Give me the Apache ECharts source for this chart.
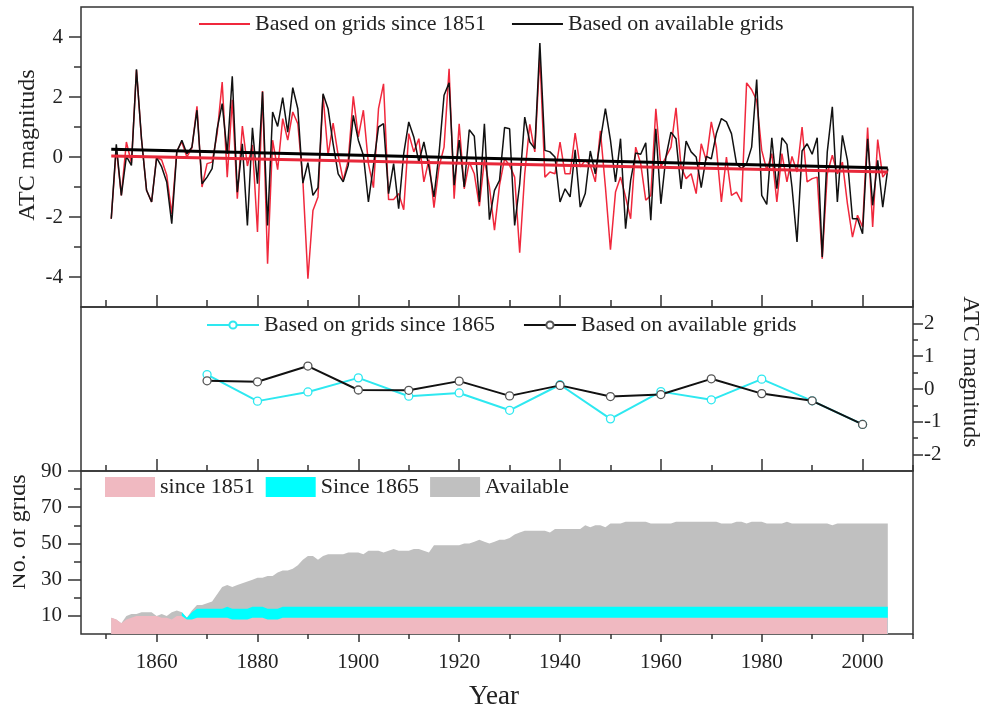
<!DOCTYPE html>
<html>
<head>
<meta charset="utf-8">
<script src="https://cdn.jsdelivr.net/npm/echarts@6/dist/echarts.min.js"></script>
<style>
html, body { margin: 0; padding: 0; background: #fff; }
#main { width: 987px; height: 715px; }
</style>
</head>
<body>
<div id="main"></div>
<script>
// annual ATC, 1851-2005
var firstYear = 1851;
var atcSince1851 = [
    -2.06, 0.3, -1.28, 0.5, -0.2, 2.9, 0.6, -1.11, -1.5, 0.0,
    -0.1, -0.6, -1.9, 0.2, 0.5, 0.0, 0.3, 1.69, -1.0, -0.22,
    -0.17, 0.78, 2.5, -0.67, 1.91, -1.39, 1.03, -0.3, 0.4, -2.5,
    2.2, -3.56, 0.56, -0.42, 1.28, 0.56, 1.5, 1.11, -0.78, -4.06,
    -1.78, -1.33, 2.06, 0.06, 1.13, 0.06, -0.78, -0.11, 2.02, 0.67,
    1.56, -0.22, -1.02, 1.61, 2.44, -1.42, -1.42, -1.22, -1.76, 0.78,
    0.17, 0.61, -0.83, -0.09, -1.69, -0.33, 0.33, 2.94, -1.39, 1.11,
    -1.06, -0.17, -0.56, -1.64, -0.09, -1.0, -2.44, -0.94, -0.06, -0.28,
    -0.67, -3.19, -0.56, 1.09, 0.17, 3.39, -0.67, -0.5, -0.56, 0.5,
    -0.56, -0.56, 0.8, -0.33, -0.11, -0.28, -0.83, 0.87, -1.0, -3.09,
    -1.17, -0.67, -1.33, -2.06, 0.33, -0.22, -1.44, -1.28, 1.61, -0.33,
    0.0, 0.33, 1.64, -0.33, -0.72, -0.56, -1.22, 0.44, -0.11, 1.17,
    0.33, -1.5, 0.0, -1.28, -1.17, -1.5, 2.47, 2.24, 1.89, 0.22,
    -0.44, 0.11, -1.5, 0.11, -0.83, 0.02, -0.5, 1.0, -0.83, -0.72,
    -0.67, -3.39, -0.56, 0.06, -0.56, -0.17, -1.56, -2.67, -1.94, -2.33,
    0.98, -2.33, 0.58, -0.67, -0.44
];
var atcAvailable = [
    -2.06, 0.42, -1.28, 0.02, -0.28, 2.92, 0.6, -1.11, -1.5, -0.02,
    -0.33, -0.83, -2.22, 0.17, 0.56, 0.11, 0.33, 1.56, -0.89, -0.67,
    -0.39, 0.94, 1.78, 0.11, 2.69, -1.17, 0.44, -2.28, 0.97, -0.89,
    2.17, -2.28, 1.5, 1.02, 1.98, 0.83, 2.31, 1.61, -0.87, -0.19,
    -1.28, -1.02, 2.11, 1.61, 0.44, -0.56, -0.83, -0.28, 1.39, 0.56,
    0.06, -1.5, -0.28, 1.0, 1.11, -1.22, -0.22, -1.72, 0.11, 1.17,
    0.67, -0.17, 0.5, -0.33, -1.33, 0.11, 2.06, 2.47, -0.94, 0.56,
    -1.0, 0.91, 0.69, -1.5, 1.11, -2.09, -1.11, -0.78, 0.98, 0.94,
    -2.28, -0.9, 1.33, 0.5, 0.28, 3.8, 0.22, 0.17, 0.0, -1.5,
    -1.06, -1.33, 0.24, -1.67, -1.22, 0.2, -0.56, 0.56, 1.61, 0.56,
    -0.83, 0.61, -2.39, -0.78, 0.13, 0.09, 0.47, -2.11, 0.94, -1.56,
    0.0, 0.83, 0.61, -1.06, 0.53, 0.17, 0.0, -1.02, 0.02, -0.06,
    0.78, 1.28, 1.17, 0.78, -0.22, -0.39, -0.22, 0.33, 2.58, -1.28,
    -1.58, 0.64, -1.06, 0.64, 0.42, -1.0, -2.83, 0.2, 0.44, 0.09,
    0.64, -3.33, 0.17, 1.67, -1.5, 0.72, -0.11, -2.06, -2.06, -2.56,
    0.61, -1.61, -0.11, -1.67, -0.39
];
// linear trends (end points)
var trendSince1851 = [[1851, 0.03], [2005, -0.5]];
var trendAvailable = [[1851, 0.26], [2005, -0.37]];

// decadal ATC
var decades = [1870, 1880, 1890, 1900, 1910, 1920, 1930, 1940, 1950, 1960, 1970, 1980, 1990, 2000];
var decSince1865 = [0.44, -0.37, -0.09, 0.34, -0.22, -0.12, -0.65, 0.13, -0.91, -0.08, -0.33, 0.30, -0.36, -1.08];
var decAvailable = [0.25, 0.22, 0.70, -0.03, -0.04, 0.24, -0.21, 0.11, -0.23, -0.17, 0.31, -0.14, -0.36, -1.08];

// number of grids
var gridsSince1851 = [ // 1851-2005
    9, 8, 6, 8, 9, 10, 10, 10, 10, 10,
    9, 9, 8, 10, 10, 8, 8, 9, 9, 9,
    9, 9, 9, 9, 8, 8, 8, 8, 9, 9,
    9, 8, 8, 8, 9, 9, 9, 9, 9, 9,
    9, 9, 9, 9, 9, 9, 9, 9, 9, 9,
    9, 9, 9, 9, 9, 9, 9, 9, 9, 9,
    9, 9, 9, 9, 9, 9, 9, 9, 9, 9,
    9, 9, 9, 9, 9, 9, 9, 9, 9, 9,
    9, 9, 9, 9, 9, 9, 9, 9, 9, 9,
    9, 9, 9, 9, 9, 9, 9, 9, 9, 9,
    9, 9, 9, 9, 9, 9, 9, 9, 9, 9,
    9, 9, 9, 9, 9, 9, 9, 9, 9, 9,
    9, 9, 9, 9, 9, 9, 9, 9, 9, 9,
    9, 9, 9, 9, 9, 9, 9, 9, 9, 9,
    9, 9, 9, 9, 9, 9, 9, 9, 9, 9,
    9, 9, 9, 9, 9
];
var gridsSince1865 = [ // 1865-2005
    12, 9, 12, 14, 14, 14,
    14, 14, 14, 15, 14, 14, 14, 14, 15, 15,
    15, 14, 14, 14, 15, 15, 15, 15, 15, 15,
    15, 15, 15, 15, 15, 15, 15, 15, 15, 15,
    15, 15, 15, 15, 15, 15, 15, 15, 15, 15,
    15, 15, 15, 15, 15, 15, 15, 15, 15, 15,
    15, 15, 15, 15, 15, 15, 15, 15, 15, 15,
    15, 15, 15, 15, 15, 15, 15, 15, 15, 15,
    15, 15, 15, 15, 15, 15, 15, 15, 15, 15,
    15, 15, 15, 15, 15, 15, 15, 15, 15, 15,
    15, 15, 15, 15, 15, 15, 15, 15, 15, 15,
    15, 15, 15, 15, 15, 15, 15, 15, 15, 15,
    15, 15, 15, 15, 15, 15, 15, 15, 15, 15,
    15, 15, 15, 15, 15, 15, 15, 15, 15, 15,
    15, 15, 15, 15, 15
];
var gridsAvailable = [ // 1851-2005
    9, 8, 6, 10, 11, 11, 12, 12, 12, 10,
    11, 10, 12, 13, 12, 9, 13, 16, 16, 17,
    18, 22, 26, 27, 26, 27, 28, 29, 30, 31,
    31, 32, 32, 34, 35, 35, 36, 38, 41, 43,
    43, 41, 43, 44, 44, 44, 44, 45, 45, 45,
    44, 46, 46, 46, 45, 46, 47, 46, 46, 46,
    47, 47, 46, 45, 49, 49, 49, 49, 49, 49,
    50, 50, 51, 52, 51, 50, 51, 52, 52, 53,
    55, 56, 57, 57, 57, 57, 57, 56, 58, 58,
    58, 58, 58, 58, 60, 59, 60, 60, 59, 61,
    61, 61, 62, 62, 62, 62, 62, 61, 61, 61,
    61, 61, 62, 62, 62, 62, 62, 62, 62, 62,
    62, 61, 61, 61, 62, 62, 61, 62, 62, 62,
    61, 61, 61, 61, 62, 61, 61, 61, 61, 61,
    61, 61, 61, 60, 61, 61, 61, 61, 61, 61,
    61, 61, 61, 61, 61
];

// tick values
var yearTicks = [1860, 1880, 1900, 1920, 1940, 1960, 1980, 2000];
var yearMinorTicks = [1850, 1870, 1890, 1910, 1930, 1950, 1970, 1990, 2010];
var atcTicks = [-4, -2, 0, 2, 4];
var atcMinorTicks = [-3, -1, 1, 3];
var decTicks = [-2, -1, 0, 1, 2];
var decMinorTicks = [-1.5, -0.5, 0.5, 1.5];
var countTicks = [10, 30, 50, 70, 90];
var countMinorTicks = [20, 40, 60, 80];

var font = 'Liberation Serif';
var ink = '#333';

function pairs(y0, arr) {
    return arr.map(function (v, i) { return [y0 + i, v]; });
}

function plain(v) {
    return String(v);
}

function yearAxis(grid, ticks, len, inside, labels) {
    return {
        type: 'value', gridIndex: grid, position: 'bottom', min: 1845, max: 2010,
        axisLine: { show: false, onZero: false },
        splitLine: { show: false },
        axisTick: { show: true, customValues: ticks, length: len, inside: inside, lineStyle: { color: ink, width: 1.5 } },
        axisLabel: labels ? { show: true, customValues: ticks, formatter: plain, margin: 18, fontFamily: font, fontSize: 21, color: '#222' } : { show: false }
    };
}

function valueAxis(grid, pos, min, max, ticks, len, labels, margin) {
    return {
        type: 'value', gridIndex: grid, position: pos, min: min, max: max,
        axisLine: { show: false, onZero: false },
        splitLine: { show: false },
        axisTick: { show: true, customValues: ticks, length: len, lineStyle: { color: ink, width: 1.5 } },
        axisLabel: labels ? { show: true, customValues: ticks, formatter: plain, margin: margin, fontFamily: font, fontSize: 21, color: '#222' } : { show: false }
    };
}

var chart = echarts.init(document.getElementById('main'));

var legendText = { fontFamily: font, fontSize: 22, color: '#222' };

var option = {
    backgroundColor: '#fff',
    animation: false,
    grid: [
        { left: 81, right: 74, top: 7, height: 300, show: true, borderColor: ink, borderWidth: 1.5 },
        { left: 81, right: 74, top: 307, height: 164, show: true, borderColor: ink, borderWidth: 1.5 },
        { left: 81, right: 74, top: 471, height: 163, show: true, borderColor: ink, borderWidth: 1.5 }
    ],
    xAxis: [
        yearAxis(0, yearTicks, 12, true, false),
        yearAxis(0, yearMinorTicks, 7, true, false),
        yearAxis(1, yearTicks, 12, true, false),
        yearAxis(1, yearMinorTicks, 6, true, false),
        yearAxis(2, yearTicks, 8, false, true),
        yearAxis(2, yearMinorTicks, 5, false, false)
    ],
    yAxis: [
        valueAxis(0, 'left', -5, 5, atcTicks, 12, true, 18),
        valueAxis(0, 'left', -5, 5, atcMinorTicks, 7, false),
        valueAxis(1, 'right', -2.5, 2.5, decTicks, 10, true, 11),
        valueAxis(1, 'right', -2.5, 2.5, decMinorTicks, 5, false),
        valueAxis(2, 'left', 0, 90, countTicks, 13, true, 19),
        valueAxis(2, 'left', 0, 90, countMinorTicks, 7, false)
    ],
    legend: [
        {
            left: 199, top: 13, padding: 0, itemWidth: 51, itemHeight: 2, itemGap: 26,
            selectedMode: false, textStyle: legendText,
            data: [
                { name: 'Based on grids since 1851', icon: 'rect' },
                { name: 'Based on available grids', icon: 'rect' }
            ]
        },
        {
            left: 206, top: 314, padding: 0, itemWidth: 52, itemHeight: 9, itemGap: 28,
            selectedMode: false, textStyle: legendText,
            data: ['Based on grids since 1865', 'Based on available grids ']
        },
        {
            left: 105, top: 476, padding: 0, itemWidth: 50, itemHeight: 20, itemGap: 11,
            selectedMode: false, textStyle: legendText,
            data: [
                { name: 'since 1851', icon: 'rect' },
                { name: 'Since 1865', icon: 'rect' },
                { name: 'Available', icon: 'rect' }
            ]
        }
    ],
    series: [
        {
            name: 'Based on grids since 1851', type: 'line', xAxisIndex: 0, yAxisIndex: 0,
            data: pairs(firstYear, atcSince1851), symbol: 'none', color: '#f0283c',
            lineStyle: { width: 1.5 }, z: 2
        },
        {
            name: 'Based on available grids', type: 'line', xAxisIndex: 0, yAxisIndex: 0,
            data: pairs(firstYear, atcAvailable), symbol: 'none', color: '#111',
            lineStyle: { width: 1.5 }, z: 3
        },
        {
            name: 'trend since 1851', type: 'line', xAxisIndex: 0, yAxisIndex: 0,
            data: trendSince1851, symbol: 'none', color: '#e8283a',
            lineStyle: { width: 3 }, z: 4
        },
        {
            name: 'trend available', type: 'line', xAxisIndex: 0, yAxisIndex: 0,
            data: trendAvailable, symbol: 'none', color: '#000',
            lineStyle: { width: 3 }, z: 5
        },
        {
            name: 'Based on grids since 1865', type: 'line', xAxisIndex: 2, yAxisIndex: 2,
            data: decades.map(function (y, i) { return [y, decSince1865[i]]; }),
            symbol: 'circle', symbolSize: 8, color: '#2ee8f0',
            itemStyle: { color: '#fff', borderColor: '#2ee8f0', borderWidth: 1.3 },
            lineStyle: { width: 2, color: '#2ee8f0' }, z: 2
        },
        {
            name: 'Based on available grids ', type: 'line', xAxisIndex: 2, yAxisIndex: 2,
            data: decades.map(function (y, i) { return [y, decAvailable[i]]; }),
            symbol: 'circle', symbolSize: 8, color: '#111',
            itemStyle: { color: '#fff', borderColor: '#555', borderWidth: 1.3 },
            lineStyle: { width: 2, color: '#111' }, z: 3
        },
        {
            name: 'Available', type: 'line', xAxisIndex: 4, yAxisIndex: 4,
            data: pairs(firstYear, gridsAvailable), symbol: 'none', color: '#c0c0c0',
            lineStyle: { width: 0 }, areaStyle: { color: '#c0c0c0', opacity: 1 }, z: 1
        },
        {
            name: 'Since 1865', type: 'line', xAxisIndex: 4, yAxisIndex: 4,
            data: pairs(1865, gridsSince1865), symbol: 'none', color: '#00ffff',
            lineStyle: { width: 0 }, areaStyle: { color: '#00ffff', opacity: 1 }, z: 2
        },
        {
            name: 'since 1851', type: 'line', xAxisIndex: 4, yAxisIndex: 4,
            data: pairs(firstYear, gridsSince1851), symbol: 'none', color: '#f0b9c1',
            lineStyle: { width: 0 }, areaStyle: { color: '#f0b9c1', opacity: 1 }, z: 3
        }
    ],
    graphic: [
        {
            type: 'text', x: 28, y: 145, rotation: Math.PI / 2,
            style: { text: 'ATC magnituds', fontFamily: font, fontSize: 24, fill: '#222', align: 'center', verticalAlign: 'middle' }
        },
        {
            type: 'text', x: 970, y: 372, rotation: -Math.PI / 2,
            style: { text: 'ATC magnituds', fontFamily: font, fontSize: 24, fill: '#222', align: 'center', verticalAlign: 'middle' }
        },
        {
            type: 'text', x: 19, y: 532, rotation: Math.PI / 2,
            style: { text: 'No. of grids', fontFamily: font, fontSize: 24, fill: '#222', align: 'center', verticalAlign: 'middle' }
        },
        {
            type: 'rect', shape: { x: 0, y: 460, width: 13, height: 150 },
            style: { fill: '#fff' }, z: 100
        },
        {
            type: 'text', x: 494, y: 697,
            style: { text: 'Year', fontFamily: font, fontSize: 27, fill: '#222', align: 'center', verticalAlign: 'middle' }
        }
    ]
};

chart.setOption(option);
</script>
</body>
</html>
